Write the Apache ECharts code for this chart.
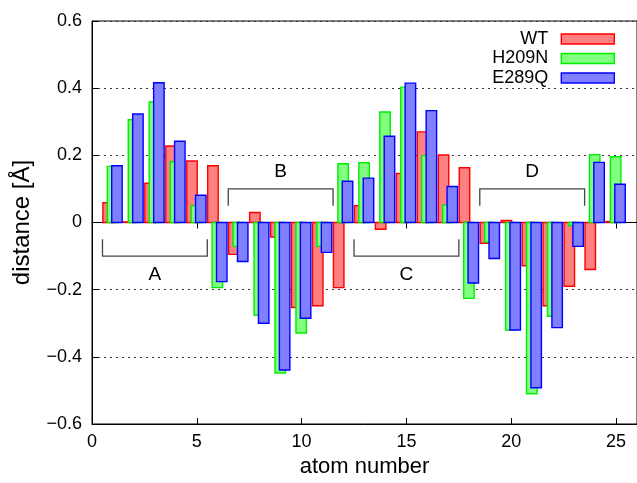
<!DOCTYPE html>
<html>
<head>
<meta charset="utf-8">
<script src="https://cdn.jsdelivr.net/npm/echarts@6/dist/echarts.min.js"></script>
<style>
  html, body { margin: 0; padding: 0; background: #fff; }
  #chart { width: 637px; height: 483px; }
</style>
</head>
<body>
<div id="chart"></div>
<script>
// Displacement per atom for the three variants
const atoms = [1, 2, 3, 4, 5, 6, 7, 8, 9, 10, 11, 12, 13, 14, 15, 16, 17, 18, 19, 20, 21, 22, 23, 24, 25];
const wt = [0.059, 0.002, 0.117, 0.228, 0.183, 0.169, -0.095, 0.030, -0.043, -0.253, -0.248, -0.194, 0.050,
            -0.020, 0.146, 0.270, 0.201, 0.163, -0.062, 0.006, -0.129, -0.248, -0.190, -0.140, 0.003];
const h209n = [0.167, 0.306, 0.359, 0.181, 0.050, -0.194, -0.071, -0.276, -0.448, -0.329, -0.071, 0.175, 0.178,
               0.329, 0.403, 0.199, 0.052, -0.226, -0.058, -0.320, -0.510, -0.279, -0.009, 0.202, 0.196];
const e289q = [0.169, 0.323, 0.416, 0.242, 0.081, -0.176, -0.116, -0.300, -0.439, -0.285, -0.089, 0.123, 0.132,
               0.257, 0.415, 0.333, 0.107, -0.180, -0.107, -0.320, -0.492, -0.313, -0.071, 0.179, 0.114];
const seriesNames = ['WT', 'H209N', 'E289Q'];

// Segment brackets (atom ranges) and their labels
const bracketLabels = ['A', 'B', 'C', 'D'];
const bracketFrom = [0.5, 6.5, 12.5, 18.5];
const bracketTo = [5.5, 11.5, 17.5, 23.5];
const bracketLine = [-0.1, 0.1, -0.1, 0.1];
const bracketTip = [-0.05, 0.05, -0.05, 0.05];
const bracketText = [-0.155, 0.152, -0.155, 0.152];

const FONT = 'Liberation Sans, Arial, Helvetica, sans-serif';
const BAR_W = 0.5;
const fills = ['#ff8080', '#80ff80', '#8080ff'];
const strokes = ['#ff0000', '#00ee00', '#0000ff'];
const offsets = [-0.23, -0.02, 0.19];

function barRenderer(k) {
  return function (params, api) {
    const x = api.value(0), v = api.value(1);
    const a = api.coord([x + offsets[k] - BAR_W / 2, v]);
    const b = api.coord([x + offsets[k] + BAR_W / 2, 0]);
    return {
      type: 'rect',
      shape: { x: a[0], y: Math.min(a[1], b[1]), width: b[0] - a[0], height: Math.max(Math.abs(b[1] - a[1]), 0.5) },
      style: { fill: fills[k], stroke: strokes[k], lineWidth: 1.4 }
    };
  };
}

function barSeries(k, values) {
  return {
    type: 'custom',
    name: seriesNames[k],
    xAxisIndex: 0, yAxisIndex: 0,
    itemStyle: { color: fills[k], borderColor: strokes[k], borderWidth: 1.4 },
    renderItem: barRenderer(k),
    encode: { x: 0, y: 1 },
    data: atoms.map((a, i) => [a, values[i]]),
    z: 3 + k
  };
}

const bracketData = bracketLabels.map((l, i) => [bracketFrom[i], bracketTo[i], bracketLine[i], bracketTip[i], bracketText[i], l]);

const legendRows = [30, 49.5, 69];
const legends = seriesNames.map((n, k) => ({
  data: [{ name: n, icon: 'rect', itemStyle: { color: fills[k], borderColor: strokes[k], borderWidth: 1.4 } }],
  orient: 'vertical',
  right: 22,
  top: legendRows[k],
  align: 'right',
  padding: 0,
  itemWidth: 53,
  itemHeight: 10,
  selectedMode: false,
  textStyle: { fontFamily: FONT, fontSize: 18, color: '#000', padding: [0, 8, 0, 0] }
}));

const fmtY = v => {
  const r = Math.round(v * 10) / 10;
  if (r === 0) return '0';
  return (r < 0 ? '\u2212' : '') + Math.abs(r).toFixed(1);
};

const chart = echarts.init(document.getElementById('chart'), null, { renderer: 'canvas' });
chart.setOption({
  animation: false,
  backgroundColor: '#fff',
  legend: legends,
  grid: { left: 92, top: 21, width: 546, height: 404.5, show: true, borderColor: '#000', borderWidth: 1, backgroundColor: 'transparent' },
  xAxis: [{
    type: 'value', min: 0, max: 26, interval: 5,
    name: 'atom number', nameLocation: 'middle', nameGap: 32,
    nameTextStyle: { fontFamily: FONT, fontSize: 22, color: '#000' },
    axisLine: { show: true, onZero: false, lineStyle: { color: '#000', width: 1 } },
    axisTick: { show: true, inside: true, length: 6, lineStyle: { color: '#000' } },
    axisLabel: { fontFamily: FONT, fontSize: 18, color: '#000', margin: 9, showMaxLabel: false },
    splitLine: { show: false }
  }, {
    type: 'value', min: 0, max: 26, interval: 5, position: 'top',
    axisLine: { show: true, lineStyle: { color: '#000', width: 1 } },
    axisTick: { show: true, inside: true, length: 6, lineStyle: { color: '#000' } },
    axisLabel: { show: false },
    splitLine: { show: false }
  }],
  yAxis: [{
    type: 'value', min: -0.6, max: 0.6, interval: 0.2,
    name: 'distance [Å]', nameLocation: 'middle', nameGap: 58, nameRotate: 90,
    nameTextStyle: { fontFamily: FONT, fontSize: 24, color: '#000' },
    axisLine: { show: true, onZero: false, lineStyle: { color: '#000', width: 1 } },
    axisTick: { show: true, inside: true, length: 6, lineStyle: { color: '#000' } },
    axisLabel: { fontFamily: FONT, fontSize: 18, color: '#000', margin: 10, formatter: fmtY },
    splitLine: { show: true, lineStyle: { color: '#333', width: 1, type: [2, 4] } }
  }],
  series: [
    barSeries(0, wt),
    barSeries(1, h209n),
    barSeries(2, e289q),
    {
      type: 'custom',
      name: 'segments',
      xAxisIndex: 0, yAxisIndex: 0,
      silent: true,
      data: bracketData,
      encode: { x: [0, 1], y: [2, 3, 4] },
      z: 10,
      renderItem: function (params, api) {
        const x0 = api.value(0), x1 = api.value(1);
        const yl = api.value(2), yt = api.value(3), ytxt = api.value(4);
        const p0 = api.coord([x0, yt]), p1 = api.coord([x0, yl]);
        const p2 = api.coord([x1, yl]), p3 = api.coord([x1, yt]);
        const c = api.coord([(x0 + x1) / 2, ytxt]);
        return {
          type: 'group',
          children: [{
            type: 'polyline',
            shape: { points: [p0, p1, p2, p3] },
            style: { stroke: '#444', lineWidth: 1.3, fill: null }
          }, {
            type: 'text',
            x: c[0], y: c[1],
            style: { text: bracketLabels[params.dataIndex], fontFamily: FONT, fontSize: 19, fill: '#000', align: 'center', verticalAlign: 'middle' }
          }]
        };
      }
    }
  ]
});
</script>
</body>
</html>
